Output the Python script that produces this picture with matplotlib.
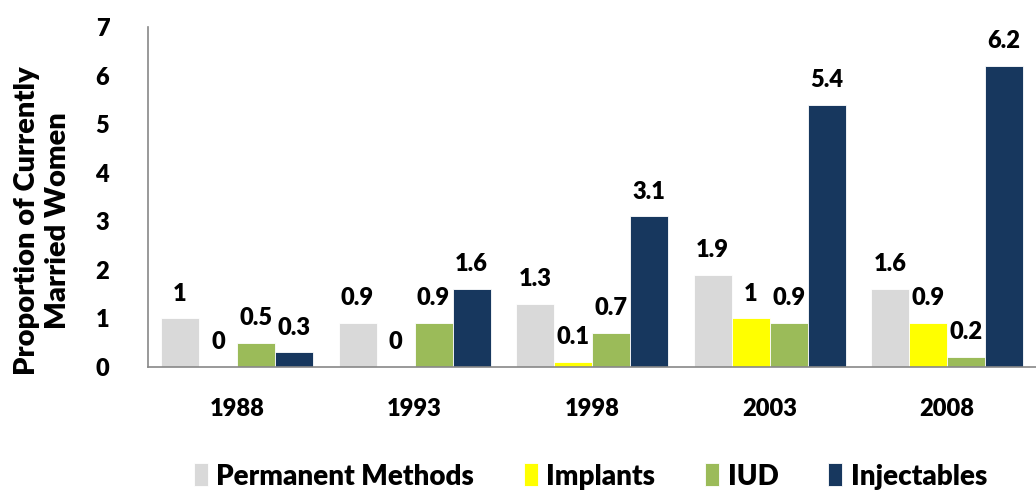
import numpy as np
import matplotlib
matplotlib.use("Agg")
import matplotlib.pyplot as plt

plt.rcParams['font.family'] = ['Lato', 'DejaVu Sans']
plt.rcParams['font.weight'] = 'heavy'

years = ['1988', '1993', '1998', '2003', '2008']
series = ['Permanent Methods', 'Implants', 'IUD', 'Injectables']
permanent = [1, 0.9, 1.3, 1.9, 1.6]
implants = [0, 0, 0.1, 1, 0.9]
iud = [0.5, 0.9, 0.7, 0.9, 0.2]
injectables = [0.3, 1.6, 3.1, 5.4, 6.2]
colors = ['#D9D9D9', '#FFFF00', '#9BBB59', '#17375E']

fig = plt.figure(figsize=(10.36, 4.9), dpi=100)
ax = fig.add_axes([0.143, 0.251, 0.857, 0.694])

x = np.arange(len(years))
w = 0.214
data = [permanent, implants, iud, injectables]
for i, (name, vals) in enumerate(zip(series, data)):
    pos = x + (i - 1.5) * w
    ax.bar(pos, vals, w, color=colors[i], label=name, edgecolor='white', linewidth=0.6)
    for p, v in zip(pos, vals):
        ax.annotate(f'{v:g}', (p, v), xytext=(0, 10), textcoords='offset points',
                    ha='center', va='bottom', fontsize=17, fontweight='heavy')

ax.set_xlim(-0.5, len(years) - 0.5)
ax.set_ylim(0, 7)
ax.set_xticks(x)
ax.set_xticklabels(years, fontsize=17, fontweight='heavy')
ax.set_yticks(range(8))
ax.set_yticklabels([str(t) for t in range(8)], fontsize=17, fontweight='heavy')
ax.tick_params(axis='both', length=0)
ax.tick_params(axis='x', pad=22)
ax.tick_params(axis='y', pad=28)
for s in ['top', 'right']:
    ax.spines[s].set_visible(False)
for s in ['left', 'bottom']:
    ax.spines[s].set_color('#888888')
    ax.spines[s].set_linewidth(1.2)
ax.set_ylabel('Proportion of Currently\nMarried Women', fontsize=21, fontweight='heavy',
              linespacing=1.25)
ax.yaxis.set_label_coords(-0.087, 0.43)

fig.legend(loc='lower center', bbox_to_anchor=(0.57, -0.05), ncol=4, frameon=False,
           fontsize=20, handlelength=0.5, handleheight=0.9, handletextpad=0.3, columnspacing=1.8)

fig.savefig('out.png', dpi=100)
